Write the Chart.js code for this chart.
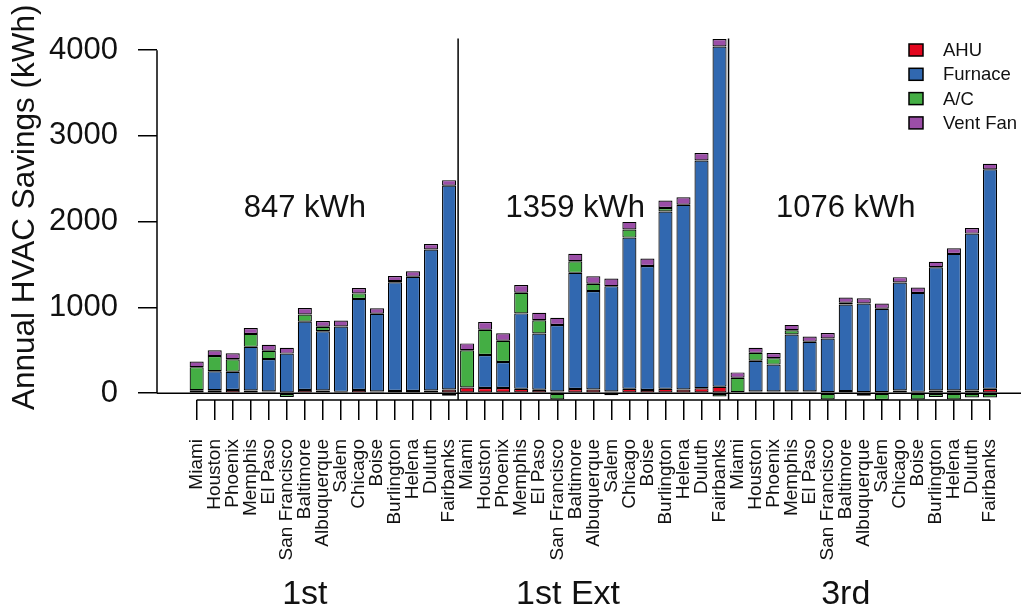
<!DOCTYPE html>
<html>
<head>
<meta charset="utf-8">
<script src="https://cdn.jsdelivr.net/npm/chart.js@4/dist/chart.umd.min.js"></script>
<style>
  html, body { margin: 0; padding: 0; background: #fff; }
  #wrap { width: 1021px; height: 611px; position: relative; }
</style>
</head>
<body>
<div id="wrap"><canvas id="c"></canvas></div>
<script>
// Climate locations, repeated for each package
const cities = ['Miami', 'Houston', 'Phoenix', 'Memphis', 'El Paso', 'San Francisco', 'Baltimore',
  'Albuquerque', 'Salem', 'Chicago', 'Boise', 'Burlington', 'Helena', 'Duluth', 'Fairbanks'];
const packages = ['1st', '1st Ext', '3rd'];
const packageAverages = ['847 kWh', '1359 kWh', '1076 kWh'];
const yTicks = [0, 1000, 2000, 3000, 4000];
const yTitle = 'Annual HVAC Savings (kWh)';

// Annual savings by end use (kWh) — package "1st"
const ahu1st     = [35, 35, 38, 30, 20, 0, 38, 30, 15, 38, 20, 25, 25, 30, 42];
const furnace1st = [0, 220, 211, 510, 377, 461, 796, 691, 763, 1061, 906, 1267, 1333, 1646, 2378];
const ac1st      = [268, 177, 147, 151, 98, -45, 83, 53, -10, 64, 0, 15, -8, 0, -30];
const vent1st    = [65, 68, 68, 68, 68, 68, 75, 68, 68, 64, 64, 60, 64, 64, 64];

// Package "1st Ext"
const ahu1stExt     = [65, 60, 60, 50, 40, 20, 48, 42, 20, 50, 38, 50, 42, 57, 75];
const furnace1stExt = [0, 385, 303, 880, 655, 775, 1355, 1148, 1228, 1764, 1444, 2069, 2155, 2656, 3967];
const ac1stExt      = [435, 295, 248, 240, 155, -75, 135, 85, -25, 95, 0, 40, -10, 0, -38];
const vent1stExt    = [80, 90, 88, 90, 88, 85, 88, 88, 88, 88, 88, 88, 88, 88, 88];

// Package "3rd"
const ahu3rd     = [10, 20, 20, 20, 20, 10, 24, 10, 10, 30, 15, 30, 30, 30, 50];
const furnace3rd = [0, 358, 313, 664, 579, 628, 1010, 1035, 974, 1261, 1154, 1439, 1594, 1831, 2560];
const ac3rd      = [170, 92, 75, 50, 0, -75, 20, -30, -80, -10, -75, -45, -75, -50, -50];
const vent3rd    = [62, 60, 60, 62, 62, 64, 60, 62, 62, 62, 62, 64, 66, 64, 66];

// Bars sit at positions 0..44 on a linear x axis, three packages side by side
const allCities = [...cities, ...cities, ...cities];
const positions = allCities.map((_, i) => i);

const FONT = '"Liberation Sans", Arial, Helvetica, sans-serif';
const INK = '#111';

function series(label, color, a, b, c) {
  return {
    label,
    data: [...a, ...b, ...c],
    backgroundColor: color,
    borderColor: '#000',
    borderWidth: 1.2,
    borderSkipped: false,
    inflateAmount: 0,
    categoryPercentage: 1,
    barPercentage: 0.78,
    stack: 'hvac'
  };
}

function seg(ctx, x1, y1, x2, y2) {
  ctx.beginPath(); ctx.moveTo(x1, y1); ctx.lineTo(x2, y2); ctx.stroke();
}

// Axis lines, reference line, package separators, labels and key
const decorations = {
  id: 'decorations',
  beforeDatasetsDraw(chart) {
    const { ctx, chartArea: a, scales: { x, y } } = chart;
    ctx.save();
    ctx.strokeStyle = '#000';
    ctx.lineWidth = 1.5;
    const y0 = y.getPixelForValue(0);
    seg(ctx, a.left, y0, a.right, y0);
    [14.5, 29.5].forEach(v => {
      const px = x.getPixelForValue(v);
      seg(ctx, px, a.top, px, a.bottom);
    });
    ctx.restore();
  },
  afterDraw(chart) {
    const { ctx, chartArea: a, scales: { x, y } } = chart;
    ctx.save();
    ctx.strokeStyle = '#000';
    ctx.lineWidth = 1.5;
    // y axis line spans first to last tick
    seg(ctx, a.left, y.getPixelForValue(yTicks[0]), a.left, y.getPixelForValue(yTicks[yTicks.length - 1]));
    // x axis line spans first to last bar
    seg(ctx, x.getPixelForValue(0), a.bottom, x.getPixelForValue(positions.length - 1), a.bottom);

    // y axis title
    ctx.fillStyle = INK;
    ctx.save();
    ctx.translate(33.5, 410);
    ctx.rotate(-Math.PI / 2);
    ctx.font = '31.5px ' + FONT;
    ctx.textAlign = 'left';
    ctx.textBaseline = 'alphabetic';
    ctx.fillText(yTitle, 0, 0);
    ctx.restore();

    // package averages and package names
    ctx.textAlign = 'center';
    ctx.textBaseline = 'alphabetic';
    ctx.font = '31px ' + FONT;
    const avgPos = [6, 21, 36];
    packageAverages.forEach((t, i) => ctx.fillText(t, x.getPixelForValue(avgPos[i]), y.getPixelForValue(2060)));
    ctx.font = '34px ' + FONT;
    const namePos = [6, 20.6, 36];
    packages.forEach((t, i) => ctx.fillText(t, x.getPixelForValue(namePos[i]), a.bottom + 204));

    // key
    ctx.font = '18.5px ' + FONT;
    ctx.textAlign = 'left';
    ctx.textBaseline = 'middle';
    chart.data.datasets.forEach((ds, i) => {
      const cy = 50 + i * 24.3;
      ctx.fillStyle = ds.backgroundColor;
      ctx.fillRect(909, cy - 6, 14, 12);
      ctx.strokeRect(909, cy - 6, 14, 12);
      ctx.fillStyle = INK;
      ctx.fillText(ds.label, 943, cy + 1);
    });
    ctx.restore();
  }
};

new Chart(document.getElementById('c'), {
  type: 'bar',
  data: {
    labels: positions,
    datasets: [
      series('AHU', '#E3061E', ahu1st, ahu1stExt, ahu3rd),
      series('Furnace', '#3168B0', furnace1st, furnace1stExt, furnace3rd),
      series('A/C', '#44AE44', ac1st, ac1stExt, ac3rd),
      series('Vent Fan', '#9B4EA7', vent1st, vent1stExt, vent3rd)
    ]
  },
  options: {
    responsive: true,
    maintainAspectRatio: false,
    devicePixelRatio: 1,
    animation: false,
    layout: { padding: { top: 28, left: 0, right: 0, bottom: 0 } },
    plugins: { legend: { display: false }, tooltip: { enabled: false } },
    scales: {
      x: {
        type: 'linear',
        stacked: true,
        offset: false,
        min: -2.2,
        max: 45.72,
        afterBuildTicks: s => { s.ticks = positions.map(v => ({ value: v })); },
        afterFit: s => { s.height = 211; s.paddingLeft = 0; s.paddingRight = 0; },
        border: { display: false },
        grid: { display: true, offset: false, drawOnChartArea: false, drawTicks: true, tickLength: 20, color: '#000', lineWidth: 1.5 },
        ticks: {
          autoSkip: false,
          minRotation: 90,
          maxRotation: 90,
          padding: 19,
          color: INK,
          font: { family: FONT, size: 19 },
          callback: v => allCities[v]
        }
      },
      y: {
        stacked: true,
        min: -80,
        max: 4135,
        afterBuildTicks: s => { s.ticks = yTicks.map(v => ({ value: v })); },
        afterFit: s => { s.width = 157; },
        border: { display: false },
        grid: { display: true, drawOnChartArea: false, drawTicks: true, tickLength: 19, color: '#000', lineWidth: 1.5 },
        ticks: {
          padding: 20,
          color: INK,
          font: { family: FONT, size: 31 },
          callback: v => String(v)
        }
      }
    }
  },
  plugins: [decorations]
});
</script>
</body>
</html>
